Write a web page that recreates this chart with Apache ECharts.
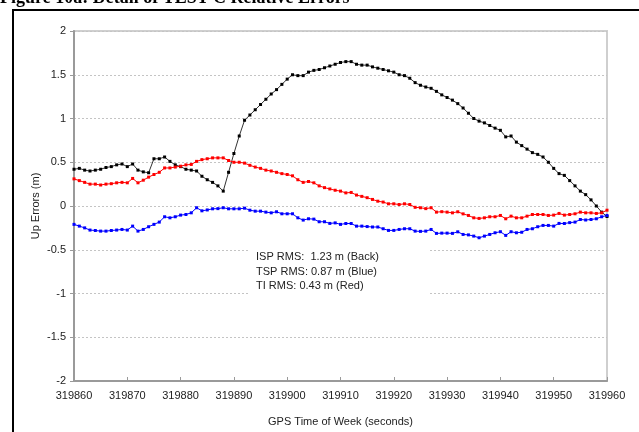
<!DOCTYPE html>
<html>
<head>
<meta charset="utf-8">
<script src="https://cdn.jsdelivr.net/npm/echarts@6/dist/echarts.min.js"></script>
<style>
html, body { margin: 0; padding: 0; background: #fff; }
#chart { width: 639px; height: 432px; }
</style>
</head>
<body>
<div id="chart"></div>
<script>
// time of week, 1 second steps
const startTime = 319860;
const xTicks = [319860, 319870, 319880, 319890, 319900, 319910, 319920, 319930, 319940, 319950, 319960];

// ISP errors (black)
const ispErrors = [
  0.42, 0.43, 0.41, 0.40, 0.41, 0.42, 0.44, 0.45, 0.47, 0.48,
  0.45, 0.48, 0.41, 0.39, 0.38, 0.54, 0.54, 0.56, 0.51, 0.47,
  0.45, 0.42, 0.41, 0.40, 0.34, 0.30, 0.27, 0.23, 0.17, 0.385,
  0.60, 0.80, 0.98, 1.04, 1.10, 1.16, 1.22, 1.28, 1.33, 1.39,
  1.45, 1.50, 1.49, 1.49, 1.53, 1.55, 1.56, 1.58, 1.60, 1.62,
  1.64, 1.65, 1.65, 1.62, 1.61, 1.61, 1.59, 1.575, 1.56, 1.545,
  1.53, 1.50, 1.49, 1.46, 1.41, 1.38, 1.36, 1.345, 1.31, 1.27,
  1.24, 1.21, 1.17, 1.12, 1.06, 1.00, 0.97, 0.95, 0.92, 0.89,
  0.865, 0.79, 0.80, 0.73, 0.69, 0.65, 0.61, 0.59, 0.56, 0.50,
  0.43, 0.37, 0.35, 0.29, 0.23, 0.17, 0.13, 0.07, 0.00, -0.07,
  -0.12
];

// TSP errors (blue)
const tspErrors = [
  -0.21, -0.23, -0.25, -0.275, -0.28, -0.287, -0.287, -0.28, -0.275, -0.268,
  -0.275, -0.23, -0.287, -0.268, -0.237, -0.21, -0.184, -0.123, -0.135, -0.123,
  -0.104, -0.097, -0.078, -0.02, -0.055, -0.045, -0.032, -0.03, -0.02, -0.032,
  -0.032, -0.032, -0.025, -0.048, -0.059, -0.059, -0.07, -0.078, -0.066, -0.089,
  -0.089, -0.089, -0.135, -0.161, -0.146, -0.15, -0.18, -0.18, -0.199, -0.193,
  -0.21, -0.2, -0.2, -0.23, -0.23, -0.235, -0.24, -0.24, -0.26, -0.279,
  -0.279, -0.268, -0.26, -0.26, -0.287, -0.29, -0.287, -0.268, -0.313, -0.31,
  -0.31, -0.313, -0.295, -0.325, -0.33, -0.344, -0.363, -0.344, -0.325, -0.306,
  -0.294, -0.336, -0.294, -0.306, -0.3, -0.268, -0.26, -0.237, -0.222, -0.222,
  -0.23, -0.199, -0.2, -0.19, -0.184, -0.154, -0.16, -0.154, -0.146, -0.123,
  -0.108
];

// TI errors (red)
const tiErrors = [
  0.31, 0.29, 0.27, 0.25, 0.25, 0.24, 0.25, 0.255, 0.265, 0.27,
  0.265, 0.315, 0.265, 0.295, 0.33, 0.36, 0.385, 0.435, 0.435, 0.445,
  0.455, 0.47, 0.475, 0.51, 0.53, 0.54, 0.55, 0.55, 0.55, 0.52,
  0.50, 0.50, 0.49, 0.465, 0.445, 0.43, 0.41, 0.40, 0.385, 0.37,
  0.36, 0.345, 0.30, 0.27, 0.28, 0.265, 0.23, 0.21, 0.195, 0.18,
  0.17, 0.15, 0.155, 0.125, 0.11, 0.095, 0.075, 0.055, 0.045, 0.025,
  0.025, 0.017, 0.025, 0.017, -0.015, -0.02, -0.03, -0.02, -0.07, -0.065,
  -0.07, -0.078, -0.066, -0.09, -0.108, -0.135, -0.142, -0.135, -0.123, -0.123,
  -0.108, -0.146, -0.116, -0.135, -0.135, -0.116, -0.097, -0.097, -0.097, -0.108,
  -0.104, -0.085, -0.104, -0.097, -0.089, -0.07, -0.078, -0.078, -0.085, -0.078,
  -0.048
];

const rmsNotes = [
  'ISP RMS:  1.23 m (Back)',
  'TSP RMS: 0.87 m (Blue)',
  'TI RMS: 0.43 m (Red)'
];

function toPairs(values) {
  return values.map((v, i) => [startTime + i, v]);
}

function lineSeries(name, values, lineColor, dotColor) {
  return {
    name: name,
    type: 'line',
    data: toPairs(values),
    symbol: 'rect',
    symbolSize: 3,
    showSymbol: true,
    animation: false,
    lineStyle: { color: lineColor, width: 1 },
    itemStyle: { color: dotColor }
  };
}

const labelFont = 'Liberation Sans, Arial, sans-serif';

const option = {
  backgroundColor: '#fff',
  grid: {
    left: 74, right: 32, top: 31, bottom: 50,
    show: true, borderColor: '#cfcfcf', borderWidth: 2
  },
  xAxis: {
    type: 'value',
    min: 319860, max: 319960, interval: 10,
    name: 'GPS Time of Week (seconds)',
    nameLocation: 'middle',
    nameGap: 35,
    nameMoveOverlap: false,
    nameTextStyle: { fontFamily: labelFont, fontSize: 11, color: '#222' },
    axisLine: { show: true, onZero: false, lineStyle: { color: '#9a9a9a', width: 2 } },
    axisTick: { show: true, inside: true, length: 4, lineStyle: { color: '#9a9a9a' } },
    axisLabel: {
      fontFamily: labelFont, fontSize: 11, color: '#222', margin: 9,
      formatter: v => xTicks.includes(v) ? String(v) : ''
    },
    splitLine: { show: false }
  },
  yAxis: {
    type: 'value',
    min: -2, max: 2, interval: 0.5,
    name: 'Up Errors (m)',
    nameLocation: 'middle',
    nameGap: 33,
    nameMoveOverlap: false,
    nameTextStyle: { fontFamily: labelFont, fontSize: 11, color: '#222' },
    axisLine: { show: true, onZero: false, lineStyle: { color: '#9a9a9a', width: 2 } },
    axisTick: { show: true, length: 4, lineStyle: { color: '#9a9a9a' } },
    axisLabel: { fontFamily: labelFont, fontSize: 11, color: '#222', margin: 8 },
    splitLine: { show: true, lineStyle: { color: '#c4c4c4', type: [2, 2], width: 1 } }
  },
  series: [
    lineSeries('ISP', ispErrors, '#333', '#000'),
    lineSeries('TI', tiErrors, '#ff0000', '#ff0000'),
    lineSeries('TSP', tspErrors, '#0000ff', '#0000ff')
  ],
  graphic: [
    // page frame, right and bottom edges fall off the picture
    {
      type: 'rect', z: 100,
      shape: { x: 13, y: 10, width: 700, height: 500 },
      style: { fill: null, stroke: '#000', lineWidth: 2 }
    },
    // figure caption, cut off at top of the page
    {
      type: 'text', left: 0, top: -11, z: 100,
      style: {
        text: 'Figure 10a: Detail of TEST-C Relative Errors',
        font: 'bold 18px "Liberation Serif", "Times New Roman", serif',
        fill: '#000'
      }
    },
    // RMS note box
    {
      type: 'rect', z: 50,
      shape: { x: 250, y: 246, width: 180, height: 50 },
      style: { fill: '#fff' }
    },
    {
      type: 'text', left: 256, top: 250, z: 60,
      style: {
        text: rmsNotes.join('\n'),
        font: '11px "Liberation Sans", Arial, sans-serif',
        lineHeight: 14.5,
        fill: '#222'
      }
    }
  ]
};

const myChart = echarts.init(document.getElementById('chart'), null, { renderer: 'canvas' });
myChart.setOption(option);
</script>
</body>
</html>
